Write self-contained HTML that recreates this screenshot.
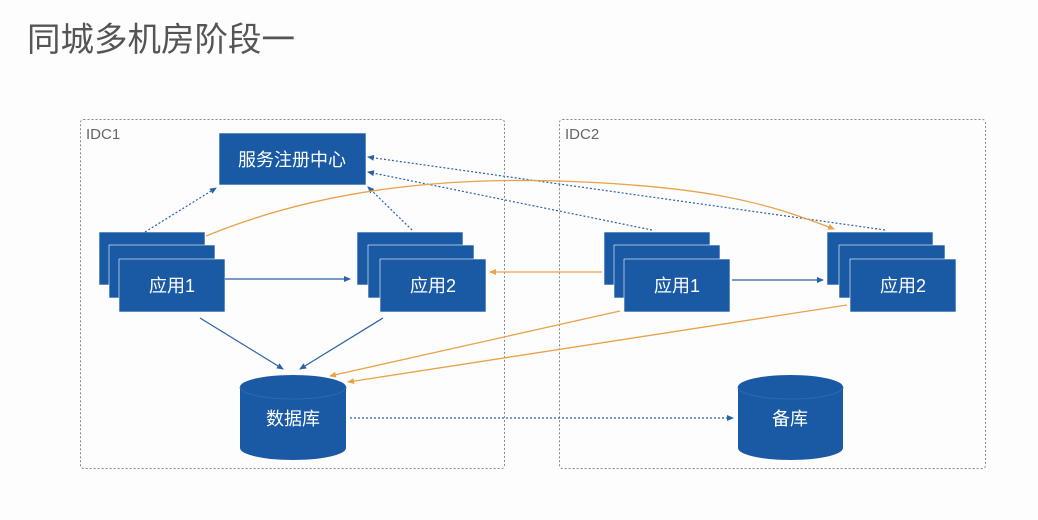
<!DOCTYPE html>
<html><head><meta charset="utf-8"><style>
html,body{margin:0;padding:0;background:#fdfdfd;}
svg{display:block}
text{font-family:"Liberation Sans","Noto Sans CJK SC",sans-serif;}
</style></head><body>
<svg width="1038" height="520" viewBox="0 0 1038 520" xmlns="http://www.w3.org/2000/svg">
<defs>
<marker id="ab" markerWidth="8" markerHeight="8" refX="6" refY="3" orient="auto" markerUnits="userSpaceOnUse"><path d="M0,0 L7,3 L0,6 z" fill="#2a62a8"/></marker>
<marker id="ao" markerWidth="8" markerHeight="8" refX="6" refY="3" orient="auto" markerUnits="userSpaceOnUse"><path d="M0,0 L7,3 L0,6 z" fill="#e8a24a"/></marker>
</defs>
<text x="27" y="51" font-size="33.5" fill="#555">同城多机房阶段一</text>
<rect x="80.5" y="119.5" width="424" height="349" fill="none" stroke="#888" stroke-dasharray="2,2" rx="3"/>
<rect x="559.5" y="119.5" width="426" height="349" fill="none" stroke="#888" stroke-dasharray="2,2" rx="3"/>
<text x="86" y="139" font-size="15" fill="#666">IDC1</text>
<text x="565" y="139" font-size="15" fill="#666">IDC2</text>

<g fill="#1a5aa5" stroke="#fdfdfd" stroke-width="0.6">
<rect x="219" y="133" width="147" height="52"/>
<rect x="99" y="232" width="106" height="53"/><rect x="109" y="245" width="106" height="53"/><rect x="119" y="259" width="106" height="53"/>
<rect x="357" y="232" width="106" height="53"/><rect x="368" y="245" width="106" height="53"/><rect x="380" y="259" width="106" height="53"/>
<rect x="604" y="232" width="106" height="53"/><rect x="614" y="245" width="106" height="53"/><rect x="624" y="259" width="106" height="53"/>
<rect x="827" y="232" width="106" height="53"/><rect x="839" y="245" width="106" height="53"/><rect x="850" y="259" width="106" height="53"/>
</g>
<g fill="#1a5aa5">
<path d="M240,387 A53,12 0 0 1 346,387 L346,448 A53,12 0 0 1 240,448 Z"/>
<path d="M738,387 A52.5,12 0 0 1 843,387 L843,448 A52.5,12 0 0 1 738,448 Z"/>
</g>
<path d="M240,387 A53,12 0 0 0 346,387" fill="none" stroke="#2a6ab5" stroke-width="1"/>
<path d="M738,387 A52.5,12 0 0 0 843,387" fill="none" stroke="#2a6ab5" stroke-width="1"/>
<g fill="#fff" font-size="18" text-anchor="middle">
<text x="292" y="166">服务注册中心</text>
<text x="172" y="292">应用1</text>
<text x="433" y="292">应用2</text>
<text x="677" y="292">应用1</text>
<text x="903" y="292">应用2</text>
<text x="293" y="425">数据库</text>
<text x="790" y="425">备库</text>
</g>
<g stroke="#2a62a8" stroke-width="1.2" fill="none">
<line x1="145" y1="232" x2="216" y2="188" stroke-dasharray="2,2" marker-end="url(#ab)"/>
<line x1="412" y1="230" x2="368" y2="187" stroke-dasharray="2,2" marker-end="url(#ab)"/>
<line x1="652" y1="230" x2="368" y2="172" stroke-dasharray="2,2" marker-end="url(#ab)"/>
<line x1="885" y1="230" x2="368" y2="157" stroke-dasharray="2,2" marker-end="url(#ab)"/>
<line x1="225" y1="279" x2="350" y2="279" marker-end="url(#ab)"/>
<line x1="732" y1="280" x2="823" y2="280" marker-end="url(#ab)"/>
<line x1="200" y1="318" x2="283" y2="369" marker-end="url(#ab)"/>
<line x1="383" y1="318" x2="300" y2="369" marker-end="url(#ab)"/>
<line x1="350" y1="418" x2="733" y2="418" stroke-dasharray="2,2" marker-end="url(#ab)"/>
</g>
<g stroke="#e8a24a" stroke-width="1.3" fill="none">
<path d="M206,236 C330,185 460,178 560,181 C700,186 760,200 834,229" marker-end="url(#ao)"/>
<line x1="602" y1="272" x2="490" y2="272" marker-end="url(#ao)"/>
<line x1="620" y1="311" x2="330" y2="376" marker-end="url(#ao)"/>
<line x1="847" y1="305" x2="348" y2="382" marker-end="url(#ao)"/>
</g>
</svg>
</body></html>
